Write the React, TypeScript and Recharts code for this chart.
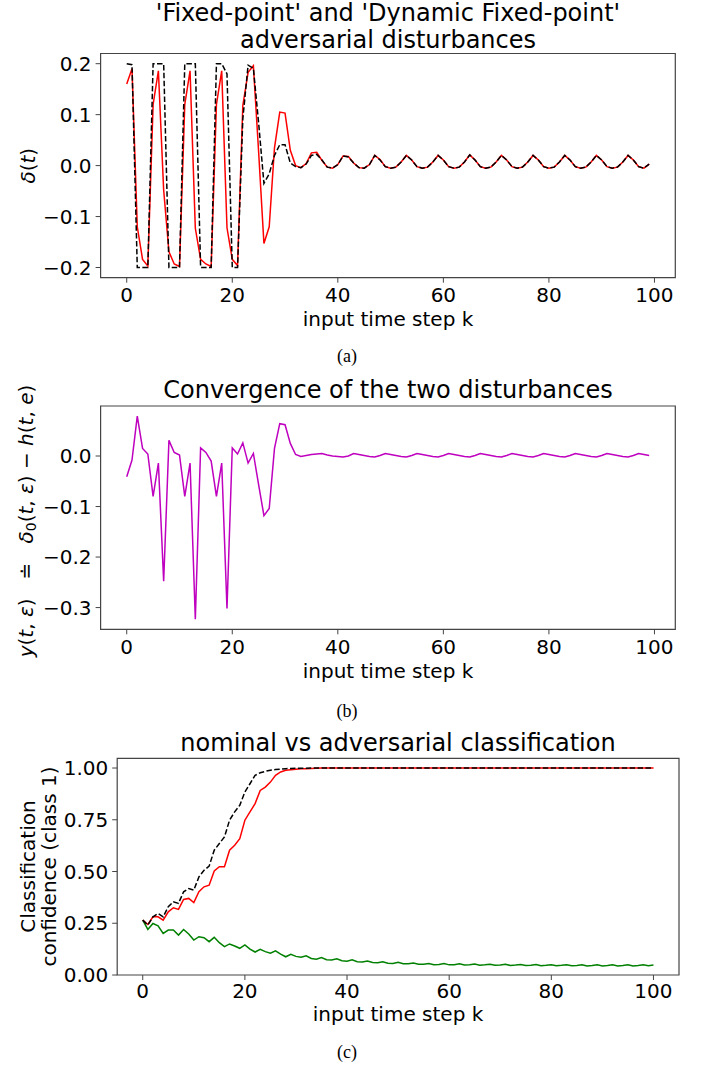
import React from "react";
import { LineChart, Line, XAxis, YAxis, ReferenceArea } from "recharts";

// input time step k
const stepsAB = Array.from({ length: 100 }, (_, i) => i);
const stepsC = Array.from({ length: 101 }, (_, i) => i);

// (a) 'Fixed-point' disturbance (red) and 'Dynamic Fixed-point' disturbance (black dashed)
const fixedPoint = [
  0.16, 0.19, -0.12, -0.184, -0.197, 0.12, 0.186, -0.048, -0.169, -0.193,
  -0.198, 0.12, 0.186, -0.123, -0.184, -0.193, -0.198, 0.12, 0.186, -0.122,
  -0.184, -0.196, 0.118, 0.183, 0.196, 0.026, -0.153, -0.12, 0.035, 0.105,
  0.103, 0.03, 0.0, -0.004, 0.004, 0.025, 0.026, 0.01, -0.003, -0.005,
  0.002, 0.019, 0.018, 0.005, -0.004, -0.005, 0.002, 0.02, 0.012, -0.002,
  -0.005, -0.003, 0.007, 0.02, 0.011, -0.002, -0.005, -0.003, 0.007, 0.02,
  0.011, -0.002, -0.005, -0.003, 0.007, 0.021, 0.011, -0.002, -0.005, -0.003,
  0.007, 0.02, 0.011, -0.002, -0.005, -0.003, 0.007, 0.02, 0.011, -0.002,
  -0.005, -0.003, 0.007, 0.02, 0.011, -0.002, -0.005, -0.003, 0.007, 0.02,
  0.011, -0.002, -0.005, -0.003, 0.007, 0.02, 0.011, -0.002, -0.005, 0.003,
];
const dynamicFixedPoint = [
  0.2, 0.198, -0.2, -0.2, -0.2, 0.2, 0.2, 0.2, -0.2, -0.2,
  -0.2, 0.2, 0.2, 0.2, -0.2, -0.2, -0.2, 0.2, 0.2, 0.18,
  -0.2, -0.2, 0.092, 0.197, 0.191, 0.083, -0.035, -0.016, 0.02, 0.041,
  0.041, 0.005, -0.002, -0.004, 0.003, 0.02, 0.022, 0.011, -0.003, -0.005,
  0.002, 0.019, 0.017, 0.005, -0.004, -0.005, 0.002, 0.02, 0.011, -0.002,
  -0.005, -0.003, 0.007, 0.02, 0.011, -0.002, -0.005, -0.003, 0.007, 0.02,
  0.011, -0.002, -0.005, -0.003, 0.007, 0.021, 0.011, -0.002, -0.005, -0.003,
  0.007, 0.02, 0.011, -0.002, -0.005, -0.003, 0.007, 0.02, 0.011, -0.002,
  -0.005, -0.003, 0.007, 0.02, 0.011, -0.002, -0.005, -0.003, 0.007, 0.02,
  0.011, -0.002, -0.005, -0.003, 0.007, 0.02, 0.011, -0.002, -0.005, 0.003,
];

// (b) difference between the two disturbances
const difference = [
  -0.041, -0.008, 0.079, 0.015, 0.004, -0.08, -0.014, -0.248, 0.031, 0.007,
  0.002, -0.08, -0.014, -0.323, 0.016, 0.007, -0.01, -0.08, -0.014, -0.302,
  0.016, 0.004, 0.026, -0.014, 0.005, -0.057, -0.118, -0.104, 0.015, 0.064,
  0.062, 0.025, 0.003, -0.001, 0.001, 0.003, 0.004, 0.005, 0.002, 0.0,
  -0.001, -0.002, 0.0, 0.005, 0.003, 0.001, -0.001, -0.002, 0.001, 0.005,
  0.003, 0.001, -0.001, -0.002, 0.001, 0.005, 0.003, 0.001, -0.001, -0.002,
  0.001, 0.005, 0.003, 0.001, -0.001, -0.002, 0.001, 0.005, 0.003, 0.001,
  -0.001, -0.002, 0.001, 0.005, 0.003, 0.001, -0.001, -0.002, 0.001, 0.005,
  0.003, 0.001, -0.001, -0.002, 0.001, 0.005, 0.003, 0.001, -0.001, -0.002,
  0.001, 0.005, 0.003, 0.001, -0.001, -0.002, 0.001, 0.005, 0.003, 0.001,
];

// (c) classification confidence for class 1
const confFixed = [
  0.265, 0.244, 0.281, 0.281, 0.265, 0.305, 0.325, 0.317, 0.365, 0.37,
  0.35, 0.402, 0.426, 0.434, 0.503, 0.523, 0.523, 0.603, 0.627, 0.659,
  0.748, 0.788, 0.828, 0.892, 0.908, 0.932, 0.965, 0.981, 0.989, 0.992,
  0.994, 0.996, 0.997, 0.998, 0.999, 1.0, 1.0, 1.0, 1.0, 1.0,
  1.0, 1.0, 1.0, 1.0, 1.0, 1.0, 1.0, 1.0, 1.0, 1.0,
  1.0, 1.0, 1.0, 1.0, 1.0, 1.0, 1.0, 1.0, 1.0, 1.0,
  1.0, 1.0, 1.0, 1.0, 1.0, 1.0, 1.0, 1.0, 1.0, 1.0,
  1.0, 1.0, 1.0, 1.0, 1.0, 1.0, 1.0, 1.0, 1.0, 1.0,
  1.0, 1.0, 1.0, 1.0, 1.0, 1.0, 1.0, 1.0, 1.0, 1.0,
  1.0, 1.0, 1.0, 1.0, 1.0, 1.0, 1.0, 1.0, 1.0, 1.0, 1.0,
];
const confDynamic = [
  0.265, 0.241, 0.281, 0.297, 0.281, 0.33, 0.354, 0.346, 0.402, 0.418,
  0.41, 0.474, 0.506, 0.526, 0.603, 0.635, 0.667, 0.748, 0.788, 0.82,
  0.884, 0.924, 0.965, 0.977, 0.984, 0.989, 0.993, 0.995, 0.997, 0.998,
  0.999, 0.999, 0.999, 1.0, 1.0, 1.0, 1.0, 1.0, 1.0, 1.0,
  1.0, 1.0, 1.0, 1.0, 1.0, 1.0, 1.0, 1.0, 1.0, 1.0,
  1.0, 1.0, 1.0, 1.0, 1.0, 1.0, 1.0, 1.0, 1.0, 1.0,
  1.0, 1.0, 1.0, 1.0, 1.0, 1.0, 1.0, 1.0, 1.0, 1.0,
  1.0, 1.0, 1.0, 1.0, 1.0, 1.0, 1.0, 1.0, 1.0, 1.0,
  1.0, 1.0, 1.0, 1.0, 1.0, 1.0, 1.0, 1.0, 1.0, 1.0,
  1.0, 1.0, 1.0, 1.0, 1.0, 1.0, 1.0, 1.0, 1.0, 1.0, 1.0,
];
const confNominal = [
  0.265, 0.22, 0.249, 0.238, 0.201, 0.217, 0.217, 0.193, 0.22, 0.198,
  0.169, 0.185, 0.18, 0.161, 0.182, 0.156, 0.137, 0.15, 0.14, 0.129,
  0.145, 0.125, 0.111, 0.124, 0.113, 0.105, 0.117, 0.101, 0.088, 0.1,
  0.09, 0.086, 0.093, 0.08, 0.076, 0.084, 0.074, 0.072, 0.078, 0.069,
  0.067, 0.073, 0.064, 0.063, 0.068, 0.06, 0.059, 0.064, 0.057, 0.056,
  0.061, 0.054, 0.054, 0.058, 0.052, 0.052, 0.056, 0.05, 0.051, 0.055,
  0.049, 0.05, 0.054, 0.048, 0.049, 0.053, 0.047, 0.049, 0.052, 0.047,
  0.048, 0.052, 0.046, 0.048, 0.051, 0.046, 0.047, 0.051, 0.045, 0.047,
  0.05, 0.045, 0.047, 0.05, 0.045, 0.046, 0.05, 0.044, 0.046, 0.05,
  0.044, 0.046, 0.049, 0.044, 0.046, 0.049, 0.044, 0.046, 0.049, 0.045, 0.048,
];

const xTicks = [0, 20, 40, 60, 80, 100];
const ticksA = [-0.2, -0.1, 0, 0.1, 0.2];
const ticksB = [-0.3, -0.2, -0.1, 0];
const ticksC = [0, 0.25, 0.5, 0.75, 1];

const dataA = stepsAB.map((k, i) => ({ k, red: fixedPoint[i], black: dynamicFixedPoint[i] }));
const dataB = stepsAB.map((k, i) => ({ k, diff: difference[i] }));
const dataC = stepsC.map((k, i) => ({
  k,
  red: confFixed[i],
  black: confDynamic[i],
  green: confNominal[i],
}));

const FONT = "DejaVu Sans";
const AXIS = "#444";
const tickStyle = { fontSize: 20, fill: "#000", fontFamily: FONT };
const fmt = (d: number) => (v: number) => v.toFixed(d).replace("-", "\u2212");
const dash = "5.5 2.4";

const abs = (top: number): React.CSSProperties => ({ position: "absolute", left: 0, top });
const it = { fontStyle: "italic" as const };

export default function App() {
  return (
    <div
      style={{
        position: "absolute",
        left: 0,
        top: 0,
        width: 702,
        height: 1068,
        background: "#fff",
        fontFamily: FONT,
      }}
    >
      {/* (a) */}
      <div style={abs(0)}>
        <LineChart width={702} height={330} data={dataA} margin={{ top: 53.5, right: 26.7, left: 0, bottom: 0 }}>
          <XAxis
            dataKey="k"
            type="number"
            domain={[-4.95, 103.95]}
            ticks={xTicks}
            height={52.3}
            axisLine={false}
            tickLine={{ stroke: AXIS }}
            tickSize={5}
            tickMargin={5}
            tick={tickStyle}
          />
          <YAxis
            type="number"
            domain={[-0.22, 0.22]}
            ticks={ticksA}
            width={100.6}
            axisLine={false}
            tickLine={{ stroke: AXIS }}
            tickSize={5}
            tickMargin={4}
            tick={tickStyle}
            tickFormatter={fmt(1)}
          />
          <ReferenceArea x1={-4.95} x2={103.95} y1={-0.22} y2={0.22} fill="none" stroke={AXIS} strokeWidth={1.2} fillOpacity={0} />
          <Line dataKey="red" type="linear" stroke="#ff0000" strokeWidth={1.5} dot={false} activeDot={false} isAnimationActive={false} />
          <Line dataKey="black" type="linear" stroke="#000" strokeWidth={1.5} strokeDasharray={dash} dot={false} activeDot={false} isAnimationActive={false} />
        </LineChart>
      </div>

      {/* (b) */}
      <div style={abs(380)}>
        <LineChart width={702} height={290} data={dataB} margin={{ top: 26, right: 26.7, left: 0, bottom: 0 }}>
          <XAxis
            dataKey="k"
            type="number"
            domain={[-4.95, 103.95]}
            ticks={xTicks}
            height={40.7}
            axisLine={false}
            tickLine={{ stroke: AXIS }}
            tickSize={5}
            tickMargin={5}
            tick={tickStyle}
          />
          <YAxis
            type="number"
            domain={[-0.343, 0.099]}
            ticks={ticksB}
            width={100.6}
            axisLine={false}
            tickLine={{ stroke: AXIS }}
            tickSize={5}
            tickMargin={4}
            tick={tickStyle}
            tickFormatter={fmt(1)}
          />
          <ReferenceArea x1={-4.95} x2={103.95} y1={-0.343} y2={0.099} fill="none" stroke={AXIS} strokeWidth={1.2} fillOpacity={0} />
          <Line dataKey="diff" type="linear" stroke="#bf00bf" strokeWidth={1.5} dot={false} activeDot={false} isAnimationActive={false} />
        </LineChart>
      </div>

      {/* (c) */}
      <div style={abs(730)}>
        <LineChart width={702} height={290} data={dataC} margin={{ top: 28.3, right: 23, left: 0, bottom: 0 }}>
          <XAxis
            dataKey="k"
            type="number"
            domain={[-5, 105]}
            ticks={xTicks}
            height={45}
            axisLine={false}
            tickLine={{ stroke: AXIS }}
            tickSize={5}
            tickMargin={4}
            tick={tickStyle}
          />
          <YAxis
            type="number"
            domain={[0, 1.047]}
            ticks={ticksC}
            width={117.2}
            axisLine={false}
            tickLine={{ stroke: AXIS }}
            tickSize={5}
            tickMargin={4}
            tick={tickStyle}
            tickFormatter={fmt(2)}
          />
          <ReferenceArea x1={-5} x2={105} y1={0} y2={1.047} fill="none" stroke={AXIS} strokeWidth={1.2} fillOpacity={0} />
          <Line dataKey="green" type="linear" stroke="#008000" strokeWidth={1.5} dot={false} activeDot={false} isAnimationActive={false} />
          <Line dataKey="red" type="linear" stroke="#ff0000" strokeWidth={1.5} dot={false} activeDot={false} isAnimationActive={false} />
          <Line dataKey="black" type="linear" stroke="#000" strokeWidth={1.5} strokeDasharray={dash} dot={false} activeDot={false} isAnimationActive={false} />
        </LineChart>
      </div>

      {/* titles, axis labels and captions */}
      <svg
        width={702}
        height={1068}
        style={{ position: "absolute", left: 0, top: 0, pointerEvents: "none" }}
        fontFamily={FONT}
        fill="#000"
      >
        <text x={388} y={21} textAnchor="middle" fontSize={24}>
          'Fixed-point' and 'Dynamic Fixed-point'
        </text>
        <text x={388} y={48} textAnchor="middle" fontSize={24}>
          adversarial disturbances
        </text>
        <text transform="translate(34.5,165.7) rotate(-90)" textAnchor="middle" fontSize={20}>
          <tspan {...it}>δ</tspan>
          <tspan>(</tspan>
          <tspan {...it}>t</tspan>
          <tspan>)</tspan>
        </text>
        <text x={388} y={326} textAnchor="middle" fontSize={20}>input time step k</text>
        <text x={347} y={362} textAnchor="middle" fontSize={18} fontFamily="Liberation Serif">(a)</text>

        <text x={388} y={398} textAnchor="middle" fontSize={24}>
          Convergence of the two disturbances
        </text>
        <text transform="translate(33,521) rotate(-90)" textAnchor="middle" fontSize={20} style={{ whiteSpace: "pre" }}>
          <tspan {...it}>y</tspan>
          <tspan>{"("}</tspan>
          <tspan {...it}>t</tspan>
          <tspan>{", "}</tspan>
          <tspan {...it}>ε</tspan>
          <tspan>{")   \u2250   "}</tspan>
          <tspan {...it}>δ</tspan>
          <tspan fontSize={14} dy={3}>0</tspan>
          <tspan dy={-3}>{"("}</tspan>
          <tspan {...it}>t</tspan>
          <tspan>{", "}</tspan>
          <tspan {...it}>ε</tspan>
          <tspan>{") \u2212 "}</tspan>
          <tspan {...it}>h</tspan>
          <tspan>{"("}</tspan>
          <tspan {...it}>t</tspan>
          <tspan>{", "}</tspan>
          <tspan {...it}>e</tspan>
          <tspan>{")"}</tspan>
        </text>
        <text x={388} y={678} textAnchor="middle" fontSize={20}>input time step k</text>
        <text x={347} y={717} textAnchor="middle" fontSize={18} fontFamily="Liberation Serif">(b)</text>

        <text x={398} y={751} textAnchor="middle" fontSize={24}>
          nominal vs adversarial classification
        </text>
        <text transform="translate(35,866.5) rotate(-90)" textAnchor="middle" fontSize={20}>
          Classification
        </text>
        <text transform="translate(56,866.5) rotate(-90)" textAnchor="middle" fontSize={20}>
          confidence (class 1)
        </text>
        <text x={398} y={1021} textAnchor="middle" fontSize={20}>input time step k</text>
        <text x={347} y={1058} textAnchor="middle" fontSize={18} fontFamily="Liberation Serif">(c)</text>
      </svg>
    </div>
  );
}
